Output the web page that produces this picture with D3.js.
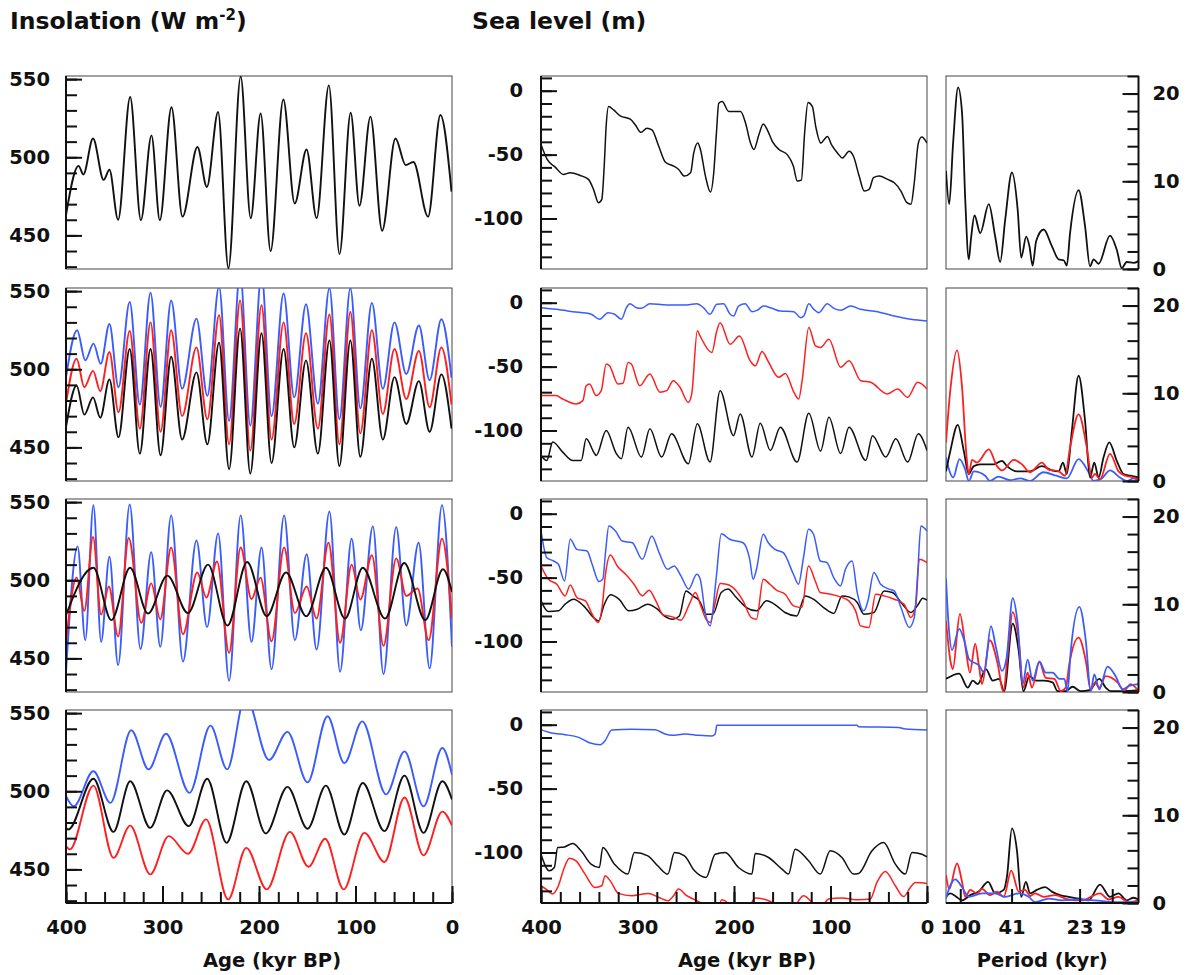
<!DOCTYPE html>
<html><head><meta charset="utf-8">
<script src="https://cdn.jsdelivr.net/npm/d3@7"></script>
<style>
body{margin:0;background:#fff}
svg{display:block}
text{font-family:"DejaVu Sans",sans-serif;font-weight:bold;fill:#111}
.ax text{font-size:19.5px}
.ax line{stroke:#111;stroke-width:2}
.title{font-size:23.5px}
.atitle{font-size:19.5px}
</style>
</head><body>
<svg id="c" width="1192" height="975"></svg>
<script>
// ---------------- DATA ----------------
// Tick labels
const insolTicks = [450, 500, 550];
const seaTicks = [0, -50, -100];
const powerTicks = [0, 10, 20];
const ageTicks = [400, 300, 200, 100, 0];
const periodTicks = [100, 41, 23, 19];

// Insolation (W m-2) vs age (kyr BP) : [age, value]
const insol1Black = [[400,463],[387,494.5],[382,489],[372,512],[361,485.5],[355,492],[346,460],[333.5,538.6],[322.4,459.7],[311.4,514],[302.8,459.7],[290.7,532],[279.3,462],[263.8,506.6],[254,481],[242.4,529],[231.7,429],[219,551.7],[208.6,461],[198.3,528],[188,440],[174.8,537],[163,470.4],[150.7,505],[140.3,461],[127.6,546],[116.6,438],[105,528.5],[95.9,469],[84.5,526],[72.4,453],[58.6,512],[48,495],[40,497],[24.8,462],[12,527],[0.5,478]];

const insol2Black = [[400,463],[389,489.6],[381,471],[372,482],[364.5,469],[355,493.5],[345.6,456.4],[334,513],[323.5,446],[312.4,513],[302,445],[291,508],[279.7,455],[264.8,498],[253.5,452],[241.4,517],[231,436],[219.6,526],[209,433.3],[197.4,523],[187,440],[174.5,513],[163.5,450],[151.3,505.7],[139,446],[127,518.5],[116.7,438],[105.3,518.5],[95,444],[83,506.7],[71.7,455],[59.6,495],[47.4,465],[34.3,492.4],[23.2,460],[11,496.7],[0.5,462]];
const insol2Red = [[400,478],[389,506.7],[381,488.5],[372,499],[364.5,486],[355,511],[345.6,472.5],[334,524.5],[323.5,462],[312.4,530],[302,460],[291,525],[279.7,470],[264.8,514],[253.5,468],[241.4,534.6],[231,452],[219.6,544],[209,448],[197.4,541],[187,455],[174.5,530],[163.5,465],[151.3,523],[139,462],[127,535],[116.7,452],[105.3,536.6],[95,459],[83,525],[71.7,471.4],[59.6,513],[47.4,481],[34.3,511.7],[23.2,475.7],[11,514],[0.5,477.4]];
const insol2Blue = [[400,495],[388.5,525],[380,505.7],[371.5,516.4],[364,503.5],[355,529],[345.6,488.5],[334,543],[323.5,477.4],[312.4,549],[302,476],[291,544],[279.7,487.5],[264.8,532.4],[253.5,483],[241.4,553],[231,467],[219.6,562],[209,464],[197.4,561],[187,470],[174.5,548.5],[163.5,482],[151.3,541.6],[139,478],[127,552],[116.7,468],[105.3,552],[95,475],[83,542.5],[71.7,487.5],[59.6,530],[47.4,497],[34.3,528],[23.2,493],[11,532],[0.5,494.5]];

const insol3Black = [[400,477.7],[371.6,508],[353,474.5],[333.6,508],[315,478.7],[295,503],[273.6,479],[252.8,510],[232.7,471],[212.3,511.7],[192,477],[172,505],[151,477],[130.6,508],[110.8,475.5],[92.5,508],[69.3,475.5],[49.5,511],[27.7,474.5],[9.4,507],[0,492.5]];
const insol3Red = [[400,460.6],[389,501.7],[381,480.4],[372,527.7],[363.6,478],[355.6,496],[346,464],[335,527],[322,472.8],[311.7,498],[302.3,475],[291,521],[278.8,465.5],[264,505],[254.5,489],[243.5,512],[231,453.6],[219,521],[207.8,488],[198.4,501.7],[187,461],[174,521],[162.8,479],[150.6,496],[140.3,475.5],[128,524],[116,460],[104,510],[95,487.7],[83,516],[71,458],[57.8,514],[47.4,490],[35.7,494.7],[24.2,461.7],[10.4,526.6],[0,475.5]];
const insol3Blue = [[400,441.5],[388,521.7],[380,461.7],[371.6,548],[363.6,460.6],[355,515],[346,445.7],[334,548.5],[322.8,456],[311.7,518],[302.3,457.4],[291,541.5],[278.8,448],[264.8,525.5],[253.8,470],[242.4,530],[231,435.7],[219,541.5],[207.8,460.6],[197.4,521],[187,443],[174,541.5],[162.8,461.7],[150.6,516.6],[140.3,455.7],[127,544],[116,441.5],[104,526.6],[94.5,468],[82,534.5],[71,440],[57.8,534],[47.4,471],[34.6,524],[23.2,443.6],[10.4,548],[0,457.4]];

const insol4Blue = [[400,496.8],[392,490.4],[371.6,512.8],[354,492.6],[332.4,539],[314.4,514],[296.4,536.8],[272,499],[250.3,542],[233,514],[214,561],[189.6,520],[170.5,538],[149.7,505.7],[129,548],[111.6,518],[93,544.7],[68.3,498],[49.2,525.5],[29.5,490.4],[10,527.7],[0,510.6]];
const insol4Black = [[400,476.6],[397.6,475.5],[371.6,508],[350.8,474],[333.5,506.4],[312.7,476.6],[295.3,500.6],[272.8,477.7],[253.7,508],[233.6,467],[213.2,506.4],[193,473],[170.5,502.8],[149.7,476],[130.7,503.6],[111.6,472.3],[92.5,505.3],[70,474.5],[49.2,510],[29.5,473.4],[10,506.4],[0,494.7]];
const insol4Red = [[400,465],[396,462.8],[371.6,503.6],[350.8,457.4],[333.5,478],[312.7,446.8],[293.6,471.3],[273.5,460],[254.8,482],[232,430.8],[213.2,463.8],[192,437.2],[168,474],[148.7,451.7],[131.4,469.6],[112.3,437.2],[90.8,473.4],[70,454.7],[49.2,496],[29.5,459],[10,487],[0,478]];

// Sea level (m) vs age (kyr BP) : [age, value]
const sea1Black = [[400,-42],[393.4,-54],[385.5,-59.6],[376.8,-65.5],[369.9,-64.2],[359.5,-66.3],[350.8,-69.4],[345.6,-77.2],[340.4,-87.6],[337,-85],[334.5,-59],[332.5,-28],[330,-12.4],[324.8,-15],[317.9,-19.7],[307.5,-22.3],[302.3,-26.7],[296.4,-32.6],[290.2,-29.3],[285,-30.6],[278,-43.5],[271,-56],[262.5,-59],[257.3,-61.7],[251.4,-66.8],[245,-64.2],[241.7,-48.7],[237.5,-41],[234.8,-46],[229.6,-66.8],[224.4,-79.3],[221,-64.2],[218.2,-33],[215.8,-9.8],[212.3,-8.5],[205.4,-16.3],[193.2,-16.3],[188,-25.4],[182.9,-41],[179.4,-46],[174.2,-34.5],[169.7,-26],[165.5,-30.6],[160.3,-39.6],[153.4,-46],[144.8,-50],[138.5,-59],[134.4,-70.7],[130.2,-70],[126.8,-33],[123.3,-9.3],[118.8,-12.4],[115.3,-28],[110,-41],[106.7,-38.3],[103.2,-35.8],[99,-42.2],[92.8,-48.7],[87.6,-52.6],[80.7,-47.4],[76.2,-51.3],[70.3,-66.8],[65,-78.5],[60,-77.2],[55.4,-68],[49.5,-66.8],[40.9,-69.4],[33.9,-72],[27,-78.5],[20.8,-87.6],[16.6,-88.9],[13.2,-72],[9,-41],[5.5,-36.3],[0,-41]];

const sea2Blue = [[400,-3.9],[384.4,-5.2],[367,-7],[348,-9],[339.3,-13],[330.6,-7.8],[323.7,-9],[316.7,-13],[311.5,-3.9],[308,-0.8],[301,-3.9],[295.8,-4.4],[287.2,-0.8],[269.8,-1.8],[249,-1.8],[238.6,-0.8],[231.7,-3.9],[224.8,-9],[217.8,-1.3],[210.9,-0.8],[204,-9],[200.5,-10.4],[195.3,-2.6],[188.4,-0.8],[181.4,-7],[176.2,-6],[169.3,-2.6],[160.6,-4.4],[152,-6.5],[138,-7],[131,-11.7],[127.7,-10.4],[122.5,-0.8],[117.3,-5.2],[112,-7.8],[103.4,-0.8],[96.4,-4.4],[89.5,-6],[79,-2.6],[68.7,-5.2],[51.3,-7],[34,-10.4],[16.6,-13],[0,-14.3]];
const sea2Red = [[400,-72.7],[384.4,-72.7],[377.5,-75.3],[363.6,-79.2],[356.6,-76.6],[353.2,-65],[349.7,-63.6],[342.8,-72.7],[337.6,-68.8],[332.4,-48],[329,-49.4],[320.2,-63.6],[315,-63],[309.8,-46.8],[306.4,-48],[297.7,-65],[287.2,-55.8],[276.8,-70],[269.8,-68.8],[262.9,-61],[256,-66.2],[247.3,-78],[243.8,-71.4],[238,-22],[235.2,-26],[223,-39],[217.8,-22],[214.4,-15.6],[204,-32.5],[194.3,-26],[183.2,-45.5],[178,-49.4],[171,-38.2],[164,-46.8],[153.7,-58.4],[146.8,-55.3],[138,-70],[132.9,-75.3],[129.4,-61],[122.5,-19.5],[115.5,-33.8],[110.3,-35],[101.6,-28.6],[89.5,-50.6],[80.8,-45.5],[68.7,-61],[58.3,-62.3],[41,-71.4],[30.5,-67.5],[20,-74],[9.7,-62.3],[0,-67.5]];
const sea2Black = [[400,-119.5],[394,-123.4],[387.8,-109],[377.5,-116.9],[367,-123.4],[358.3,-123.4],[353.2,-106.5],[344.5,-118],[342.8,-119.5],[332.4,-100],[322,-118],[316.7,-122],[309.8,-97.4],[295.9,-120.8],[287.2,-98.7],[275,-120.8],[264.7,-102.6],[247.3,-126],[238,-94.8],[224.8,-124.7],[214.4,-68.8],[200.5,-104],[193.6,-87],[181.4,-120.8],[172.8,-94.3],[162.3,-115.6],[152,-97.4],[134.6,-124.7],[122.5,-86.5],[110.3,-116.1],[101.6,-89.6],[89.5,-118],[80.8,-97.4],[63.5,-123.4],[56.5,-104],[42.7,-120.8],[32.3,-106.5],[20,-124.7],[9,-102.6],[0,-115.6]];

const sea3Blue = [[400,-13.5],[394,-34.4],[387,-37],[382,-39.6],[375.6,-52.6],[369.7,-20],[362.8,-27.9],[352.3,-29.2],[347,-39.6],[340,-53],[336,-51.3],[333,-29.2],[329.7,-9.6],[322.8,-13.5],[315.8,-21.4],[305.4,-22.7],[295,-35.7],[285.2,-17.4],[277.6,-30.5],[268.9,-43.5],[262,-40.9],[255,-48.7],[247,-59],[238.6,-47.4],[235,-51.3],[229.6,-78.6],[224.7,-87.8],[218.4,-50],[213.2,-15.6],[204.5,-20],[190.6,-22.7],[183.7,-35.7],[180.2,-51.3],[176.7,-43.5],[169.7,-16.1],[164.5,-22.7],[157.6,-27.9],[148.9,-30.5],[138.4,-47.4],[133.2,-55.2],[128,-34.4],[122.8,-12.2],[117.6,-16.1],[110.6,-37],[103.7,-38.3],[96.7,-50],[89.7,-56.5],[84.5,-43.5],[77.6,-37],[72.3,-61.7],[65.4,-76],[61.2,-68.2],[55,-46],[48,-55.2],[39.3,-59],[34,-60.4],[27,-73.4],[18.4,-89],[13.2,-81.3],[9.7,-47.4],[6.3,-9.6],[0,-13.5]];
const sea3Red = [[400,-40.9],[392.3,-51.3],[383.7,-55.2],[375,-64.3],[369.7,-55.7],[362.8,-65.6],[354,-68.2],[347,-78.6],[340.9,-85.2],[336.7,-73.4],[333.2,-47.4],[328,-32.3],[321,-40.9],[312.3,-47.4],[303.6,-55.2],[295,-64.3],[288,-59.9],[281,-68.2],[273.4,-79.2],[263.7,-80.7],[255,-83.3],[246.3,-70.8],[240,-61.7],[235,-70.8],[228.9,-82.6],[224.7,-85.2],[220.2,-72.1],[214.3,-54.7],[208,-55.2],[197.6,-60.4],[190.6,-68.2],[182,-81.3],[176.7,-82.6],[169.7,-51.3],[162.8,-55.2],[155.8,-59.9],[147,-63],[138.4,-72.1],[129.7,-73.4],[122.8,-40.9],[115.8,-52.6],[110.6,-61.7],[100,-63],[89.7,-65.1],[81,-68.2],[74,-76],[68.9,-87.8],[60.2,-89],[53.2,-63],[44.5,-64.3],[34,-66.9],[23.7,-70.8],[16.7,-81.3],[11.5,-70.8],[8,-35.7],[0,-38.3]];
const sea3Black = [[400,-68.2],[392.3,-76.6],[382,-76],[375,-70.8],[366.3,-66.9],[355.8,-72.1],[345.4,-81.3],[340.2,-83.9],[335,-72.1],[328,-63.5],[319.3,-66.9],[308.9,-76],[300.2,-74.7],[289.7,-70.8],[279.3,-74.7],[272.3,-80],[263.6,-82.6],[256.7,-80],[249.7,-60.4],[242.8,-64.3],[235.8,-68.2],[228.9,-78.6],[221.9,-78.6],[213.2,-61.7],[206.3,-59],[197.6,-65.6],[187.1,-73.4],[176.7,-76],[166.3,-68.2],[155.8,-72.1],[147.1,-77.3],[135,-80],[126.3,-64.3],[117.6,-66.9],[107.1,-73.4],[96.7,-78],[88,-64.3],[81,-65.1],[72.3,-69.5],[65.4,-78.6],[55,-77.3],[44.5,-60.4],[35.8,-61.7],[25.4,-70.8],[16.7,-77.3],[9,-70.8],[4.5,-66.1],[0,-67.7]];

const sea4Blue = [[400,-3.9],[389,-6.5],[375,-7.8],[361,-9.9],[349,-14.3],[338.5,-15.6],[333.6,-12.5],[326.7,-4.2],[306,-3.6],[281.7,-3.9],[271.4,-7.3],[264.4,-8.3],[250.6,-7.3],[236.8,-8.3],[223,-8.8],[219.5,-7.3],[217.8,-0.5],[174.6,-0.5],[105.4,-0.5],[72.6,-0.5],[70.8,-1.6],[29.4,-2.1],[22.5,-3.4],[0,-4.2]];
const sea4Black = [[400,-101.3],[391.4,-114.3],[386.2,-111.7],[382.7,-96.1],[375.8,-95.6],[367.2,-93],[358.5,-98.7],[348.2,-109.1],[339.5,-111.7],[336,-96.1],[323.9,-109.1],[310.1,-116.9],[303.2,-100],[289.3,-102.6],[279,-110.4],[268.6,-116.9],[261.7,-100],[251.3,-102.6],[240.9,-114.3],[228.9,-119.5],[219.5,-101.3],[209.2,-100],[195.3,-111.7],[181.5,-116.9],[178,-100.8],[164.2,-103.9],[150.3,-113],[143.5,-116.9],[136.6,-97.4],[122.7,-106.5],[110.6,-116.9],[100.3,-98.7],[88.2,-103.9],[76,-116.9],[70.9,-116.4],[57,-98.7],[45,-92.2],[32.8,-109.1],[22.5,-116.9],[15.6,-100],[5.2,-101.3],[0,-103.4]];
const sea4Red = [[400,-126],[394.8,-128.6],[388,-132.5],[382.7,-127.3],[375.8,-111.7],[370.6,-104.4],[363.7,-106.5],[354.4,-116.9],[344,-127.3],[337,-126],[333.6,-118.2],[328.4,-122],[319.8,-132],[306,-133.8],[288.6,-132],[278.3,-135],[268,-137.7],[262.7,-133.8],[257.5,-128.6],[249,-133.8],[238.5,-137.7],[230,-141.6],[219.5,-150],[212.6,-137],[207.4,-139],[202,-148],[188.4,-148],[178,-135.6],[164.2,-137.7],[153.8,-141.6],[140,-148],[133,-137.7],[128,-133.8],[119.3,-139],[112.4,-145.5],[102,-136.4],[88.2,-135.6],[70.9,-137],[58.8,-136.4],[51.9,-123.4],[43.2,-114.8],[32.8,-126],[24.2,-134.5],[17.3,-127.3],[12.1,-123.4],[0,-124.2]];

// Spectral power vs frequency (1/kyr) : [frequency, power]
const spec1Black = [[0.0060,11.2],[0.0069,7.4],[0.0080,14.4],[0.0094,20.7],[0.0105,17.8],[0.0114,7.9],[0.0124,1.1],[0.0130,3.4],[0.0140,6.1],[0.0156,4.1],[0.0180,7.4],[0.0198,3.7],[0.0212,0.8],[0.0226,5.6],[0.0245,11.0],[0.0261,6.8],[0.0271,1.3],[0.0285,3.7],[0.0294,2.6],[0.0303,0.4],[0.0313,3.2],[0.0334,4.5],[0.0357,2.6],[0.0376,1.1],[0.0390,1.0],[0.0399,0.4],[0.0408,4.1],[0.0432,9.0],[0.0450,4.9],[0.0464,0.3],[0.0474,1.1],[0.0488,0.6],[0.0520,3.8],[0.0539,2.2],[0.0553,0.1],[0.0567,0.8],[0.0586,0.7],[0.0600,0.9]];

const spec2Red = [[0.0060,4.4],[0.0072,10.3],[0.0091,14.9],[0.0105,10.7],[0.0117,3.1],[0.0124,0.8],[0.0133,2.4],[0.0147,2.1],[0.0180,3.6],[0.0203,1.7],[0.0217,1.2],[0.0250,2.4],[0.0273,1.9],[0.0296,1.0],[0.0329,2.1],[0.0348,1.3],[0.0376,1.1],[0.0394,0.6],[0.0408,3.8],[0.0432,7.6],[0.0455,3.8],[0.0469,0.4],[0.0478,0.8],[0.0492,0.2],[0.0520,3.1],[0.0544,1.1],[0.0563,0.6],[0.0586,0.4],[0.0600,0.1]];
const spec2Black = [[0.0060,1.1],[0.0072,3.4],[0.0093,6.4],[0.0110,3.4],[0.0124,0.8],[0.0138,1.7],[0.0156,1.9],[0.0194,1.9],[0.0217,2.3],[0.0231,1.7],[0.0259,1.1],[0.0296,1.1],[0.0329,1.7],[0.0357,1.2],[0.0376,1.1],[0.0388,2.1],[0.0399,0.8],[0.0413,5.7],[0.0432,12.0],[0.0450,6.9],[0.0464,0.4],[0.0476,2.1],[0.0488,0.4],[0.0502,2.7],[0.0518,4.4],[0.0539,2.3],[0.0558,0.8],[0.0577,0.6],[0.0600,0.4]];
const spec2Blue = [[0.0060,2.7],[0.0067,1.5],[0.0080,0.4],[0.0098,2.5],[0.0114,1.3],[0.0124,0.0],[0.0138,1.1],[0.0170,0.6],[0.0183,0.0],[0.0207,0.5],[0.0240,0.1],[0.0268,0.3],[0.0296,0.0],[0.0333,1.0],[0.0370,0.6],[0.0399,0.3],[0.0432,2.5],[0.0460,1.0],[0.0474,0.0],[0.0497,0.3],[0.0520,1.2],[0.0548,0.4],[0.0567,0.0],[0.0586,0.3],[0.0600,0.1]];

const spec3Blue = [[0.0060,12.9],[0.0067,7.8],[0.0077,4.8],[0.0097,7.2],[0.0111,5.9],[0.0125,3.7],[0.0153,3.0],[0.0167,2.2],[0.0186,7.5],[0.0200,5.1],[0.0217,2.4],[0.0230,3.9],[0.0247,10.7],[0.0261,7.8],[0.0275,0.9],[0.0289,3.7],[0.0303,1.3],[0.0322,3.5],[0.0340,2.2],[0.0359,2.2],[0.0378,1.5],[0.0392,1.5],[0.0401,0.1],[0.0410,4.7],[0.0434,9.7],[0.0452,5.9],[0.0466,0.1],[0.0476,2.0],[0.0490,0.3],[0.0513,2.9],[0.0536,1.8],[0.0555,0.3],[0.0574,0.7],[0.0600,0.9]];
const spec3Red = [[0.0060,8.1],[0.0074,3.2],[0.0079,2.6],[0.0099,8.9],[0.0116,4.7],[0.0127,2.2],[0.0142,5.5],[0.0153,2.8],[0.0161,0.9],[0.0183,5.9],[0.0205,3.2],[0.0221,0.0],[0.0233,4.3],[0.0247,9.1],[0.0264,5.9],[0.0277,0.5],[0.0289,2.2],[0.0301,0.5],[0.0322,3.4],[0.0340,1.6],[0.0364,1.5],[0.0382,0.1],[0.0396,0.5],[0.0406,3.2],[0.0432,6.2],[0.0452,3.6],[0.0466,0.2],[0.0478,1.1],[0.0490,0.5],[0.0508,1.8],[0.0541,1.1],[0.0560,0.2],[0.0578,0.9],[0.0600,0.1]];
const spec3Black = [[0.0060,1.5],[0.0097,2.1],[0.0121,0.5],[0.0135,1.3],[0.0149,0.9],[0.0172,2.6],[0.0191,1.3],[0.0209,1.5],[0.0223,0.1],[0.0247,7.8],[0.0264,4.7],[0.0277,0.1],[0.0294,1.8],[0.0312,1.3],[0.0336,1.3],[0.0359,1.1],[0.0373,0.1],[0.0396,0.1],[0.0415,0.6],[0.0438,0.1],[0.0462,0.2],[0.0490,1.5],[0.0508,0.5],[0.0522,0.1],[0.0555,0.1],[0.0600,0.2]];

const spec4Black = [[0.0060,0.7],[0.0072,1.1],[0.0086,0.8],[0.0105,0.3],[0.0128,0.9],[0.0152,1.3],[0.0178,2.4],[0.0198,1.1],[0.0222,1.5],[0.0231,3.0],[0.0245,8.5],[0.0259,6.0],[0.0271,0.7],[0.0284,2.4],[0.0296,1.1],[0.0315,1.5],[0.0338,1.8],[0.0357,1.3],[0.0380,0.9],[0.0404,0.7],[0.0432,0.5],[0.0460,0.3],[0.0492,2.1],[0.0520,0.7],[0.0544,1.1],[0.0567,0.3],[0.0586,0.6],[0.0600,0.4]];
const spec4Red = [[0.0060,3.2],[0.0069,1.6],[0.0091,4.5],[0.0105,2.4],[0.0114,0.7],[0.0128,1.5],[0.0147,1.1],[0.0161,1.6],[0.0184,0.9],[0.0203,1.3],[0.0222,0.7],[0.0243,3.7],[0.0264,1.3],[0.0282,1.5],[0.0296,0.8],[0.0310,1.1],[0.0334,0.7],[0.0366,0.9],[0.0404,0.4],[0.0441,0.3],[0.0492,1.1],[0.0516,0.4],[0.0544,0.7],[0.0572,0.1],[0.0600,0.3]];
const spec4Blue = [[0.0060,0.5],[0.0072,2.0],[0.0086,2.7],[0.0105,1.8],[0.0124,0.7],[0.0161,1.1],[0.0198,1.1],[0.0226,0.7],[0.0264,1.1],[0.0292,0.7],[0.0310,0.1],[0.0348,0.5],[0.0385,0.3],[0.0432,0.4],[0.0478,0.3],[0.0534,0.1],[0.0600,0.1]];

// ---------------- DRAWING ----------------
const BLUE = '#3a5cff', RED = '#ff1f1f', BLACK = '#111';
const svg = d3.select('#c');
const colInsol = [66, 452], colSea = [541, 927], colSpec = [946, 1138.5];
const rowTops = [76, 288, 499, 710], rowH = 193;

const insolRows = [
  [[insol1Black, BLACK]],
  [[insol2Blue, BLUE], [insol2Red, RED], [insol2Black, BLACK]],
  [[insol3Blue, BLUE], [insol3Red, RED], [insol3Black, BLACK]],
  [[insol4Blue, BLUE], [insol4Black, BLACK], [insol4Red, RED]]
];
const seaRows = [
  [[sea1Black, BLACK]],
  [[sea2Blue, BLUE], [sea2Red, RED], [sea2Black, BLACK]],
  [[sea3Black, BLACK], [sea3Red, RED], [sea3Blue, BLUE]],
  [[sea4Blue, BLUE], [sea4Black, BLACK], [sea4Red, RED]]
];
const specRows = [
  [[spec1Black, BLACK]],
  [[spec2Blue, BLUE], [spec2Black, BLACK], [spec2Red, RED]],
  [[spec3Black, BLACK], [spec3Red, RED], [spec3Blue, BLUE]],
  [[spec4Black, BLACK], [spec4Red, RED], [spec4Blue, BLUE]]
];

const defs = svg.append('defs');
let clipN = 0;
function makeClip(x0, x1, top) {
  const id = 'clip' + (clipN++);
  defs.append('clipPath').attr('id', id).append('rect')
    .attr('x', x0).attr('y', top).attr('width', x1 - x0).attr('height', rowH);
  return id;
}
function frame(x0, x1, top) {
  svg.append('rect').attr('x', x0).attr('y', top).attr('width', x1 - x0).attr('height', rowH)
    .attr('fill', 'none').attr('stroke', '#444').attr('stroke-width', 1);
}
function cleanAxis(g) {
  g.attr('font-size', null).attr('font-family', null).attr('class', 'ax');
  g.select('.domain').remove();
}
const fmt = d => String(d);

function yAxis(x, y, major, minor, side, pad) {
  const gen = side === 'left' ? d3.axisLeft : d3.axisRight;
  svg.append('g').attr('transform', `translate(${x},0)`)
    .call(gen(y).tickValues(minor).tickSize(-11).tickFormat('')).call(cleanAxis);
  svg.append('g').attr('transform', `translate(${x},0)`)
    .call(gen(y).tickValues(major).tickSize(-16).tickPadding(pad).tickFormat(fmt)).call(cleanAxis);
  svg.append('line').attr('x1', x).attr('x2', x).attr('y1', y.range()[0]).attr('y2', y.range()[1])
    .attr('stroke', '#111').attr('stroke-width', 2);
}
function xAxisBottom(yPos, x, major, minor, majorLen, minorLen) {
  if (minor) svg.append('g').attr('transform', `translate(0,${yPos})`)
    .call(d3.axisBottom(x).tickValues(minor).tickSize(-minorLen).tickFormat('')).call(cleanAxis);
  svg.append('g').attr('transform', `translate(0,${yPos})`)
    .call(d3.axisBottom(x).tickValues(major).tickSize(-majorLen).tickPadding(17).tickFormat(fmt)).call(cleanAxis);
  svg.append('line').attr('x1', x.range()[0]).attr('x2', x.range()[1]).attr('y1', yPos).attr('y2', yPos)
    .attr('stroke', '#111').attr('stroke-width', 2);
}

const ageMinor = d3.range(0, 401, 20);

for (let r = 0; r < 4; r++) {
  const top = rowTops[r], bot = top + rowH;

  // ---- Insolation panel ----
  {
    const x = d3.scaleLinear().domain([400, 0]).range(colInsol);
    const y = d3.scaleLinear().domain([428.5, 552]).range([bot, top]);
    frame(colInsol[0], colInsol[1], top);
    const cid = makeClip(colInsol[0], colInsol[1], top);
    const line = d3.line().x(d => x(d[0])).y(d => y(d[1])).curve(d3.curveMonotoneX);
    const g = svg.append('g').attr('clip-path', `url(#${cid})`);
    insolRows[r].forEach(([data, col]) => {
      g.append('path').attr('d', line(data)).attr('fill', 'none').attr('stroke', col)
        .attr('stroke-width', 1.9).attr('stroke-linejoin', 'round');
    });
    yAxis(colInsol[0], y, insolTicks, d3.range(430, 551, 10), 'left', 16);
    if (r === 3) xAxisBottom(bot, x, ageTicks, ageMinor, 17, 11);
  }

  // ---- Sea level panel ----
  {
    const x = d3.scaleLinear().domain([400, 0]).range(colSea);
    const y = d3.scaleLinear().domain([-139.5, 11.5]).range([bot, top]);
    frame(colSea[0], colSea[1], top);
    const cid = makeClip(colSea[0], colSea[1], top);
    const line = d3.line().x(d => x(d[0])).y(d => y(d[1])).curve(d3.curveMonotoneX);
    const g = svg.append('g').attr('clip-path', `url(#${cid})`);
    seaRows[r].forEach(([data, col]) => {
      g.append('path').attr('d', line(data)).attr('fill', 'none').attr('stroke', col)
        .attr('stroke-width', 1.5).attr('stroke-linejoin', 'round');
    });
    yAxis(colSea[0], y, seaTicks, d3.range(-130, 11, 10), 'left', 18);
    if (r === 3) xAxisBottom(bot, x, ageTicks, ageMinor, 17, 11);
  }

  // ---- Spectrum panel ----
  {
    const x = d3.scaleLinear().domain([0.006, 0.06]).range(colSpec);
    const y = d3.scaleLinear().domain([0, 22]).range([bot, top]);
    frame(colSpec[0], colSpec[1], top);
    const cid = makeClip(colSpec[0], colSpec[1], top);
    const line = d3.line().x(d => x(d[0])).y(d => y(d[1])).curve(d3.curveMonotoneX);
    const g = svg.append('g').attr('clip-path', `url(#${cid})`);
    specRows[r].forEach(([data, col]) => {
      g.append('path').attr('d', line(data)).attr('fill', 'none').attr('stroke', col)
        .attr('stroke-width', 1.8).attr('stroke-linejoin', 'round');
    });
    yAxis(colSpec[1], y, powerTicks, d3.range(0, 23, 2), 'right', 14);
    if (r === 3) {
      svg.append('g').attr('transform', `translate(0,${bot})`)
        .call(d3.axisBottom(x).tickValues(periodTicks.map(p => 1 / p)).tickSize(-14).tickPadding(17)
          .tickFormat((d, i) => String(periodTicks[i]))).call(cleanAxis);
      svg.append('line').attr('x1', colSpec[0]).attr('x2', colSpec[1]).attr('y1', bot).attr('y2', bot)
        .attr('stroke', '#111').attr('stroke-width', 2);
    }
  }
}

// ---- Titles ----
const t1 = svg.append('text').attr('class', 'title').attr('x', 10).attr('y', 29);
t1.append('tspan').text('Insolation (W m');
t1.append('tspan').attr('dy', -9).attr('font-size', '15px').text('-2');
t1.append('tspan').attr('dy', 9).text(')');
svg.append('text').attr('class', 'title').attr('x', 472).attr('y', 29).text('Sea level (m)');

const botTitleY = 967;
svg.append('text').attr('class', 'atitle').attr('x', (colInsol[0] + colInsol[1]) / 2 + 13).attr('y', botTitleY)
  .attr('text-anchor', 'middle').text('Age (kyr BP)');
svg.append('text').attr('class', 'atitle').attr('x', (colSea[0] + colSea[1]) / 2 + 13).attr('y', botTitleY)
  .attr('text-anchor', 'middle').text('Age (kyr BP)');
svg.append('text').attr('class', 'atitle').attr('x', (colSpec[0] + colSpec[1]) / 2).attr('y', botTitleY)
  .attr('text-anchor', 'middle').text('Period (kyr)');
</script>
</body></html>
